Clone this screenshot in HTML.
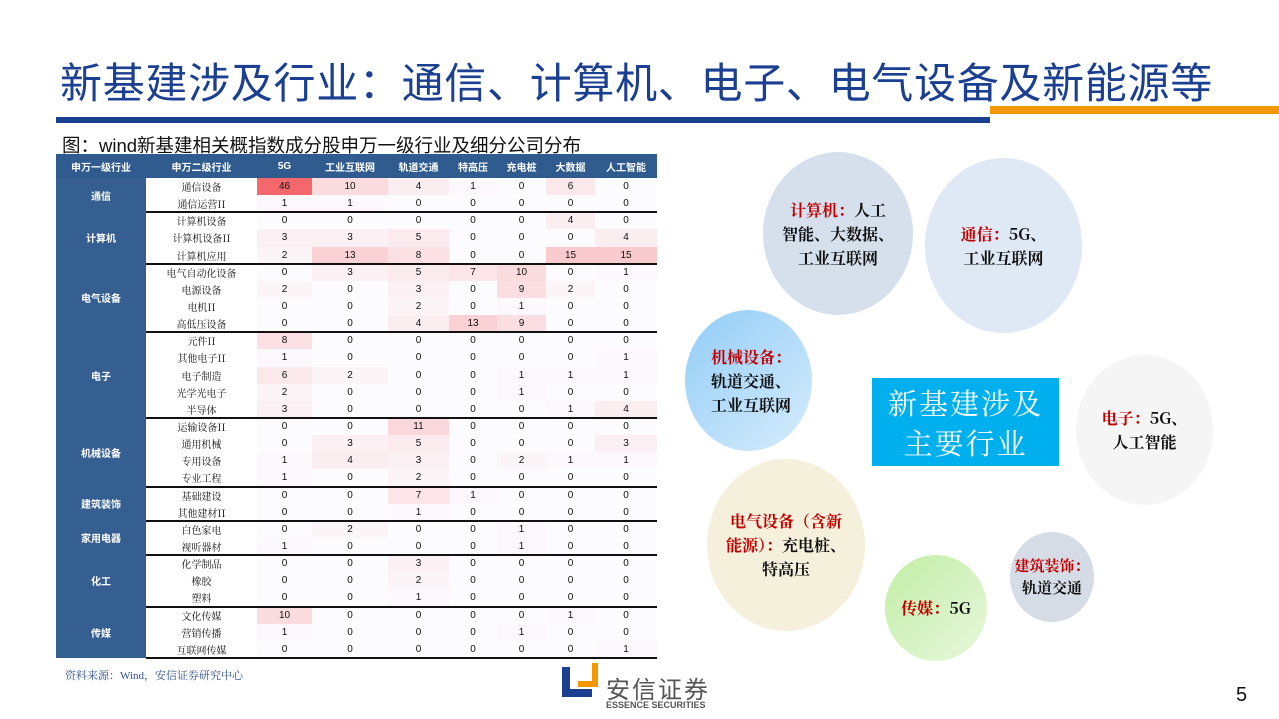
<!DOCTYPE html>
<html><head><meta charset="utf-8">
<style>
*{margin:0;padding:0;box-sizing:border-box}
body{width:1279px;height:719px;position:relative;background:#fff;font-family:"Liberation Sans","Noto Sans CJK SC",sans-serif;overflow:hidden}
.abs{position:absolute}
.cell{position:absolute;display:flex;align-items:center;justify-content:center;font-size:10px;color:#111}
.bub{position:absolute;border-radius:50%;display:flex;align-items:center;justify-content:center;text-align:center;font-weight:bold;font-size:16px;line-height:24px;color:#111;font-family:"Noto Serif CJK SC","Noto Sans CJK SC",serif}
.red{color:#c00000}
</style></head><body>
<div class="abs" style="left:60px;top:50px;font-size:42px;color:#1b3f91;white-space:nowrap;letter-spacing:0.7px">新基建涉及行业：通信、计算机、电子、电气设备及新能源等</div>
<div class="abs" style="left:56px;top:117px;width:934px;height:6px;background:#1b3f91"></div>
<div class="abs" style="left:990px;top:106px;width:289px;height:8px;background:#f39800"></div>
<div class="abs" style="left:62px;top:132px;font-size:18.5px;color:#111;white-space:nowrap">图：wind新基建相关概指数成分股申万一级行业及细分公司分布</div>
<div id="tbl" class="abs" style="left:0;top:0"></div>
<div class="abs" style="left:65px;top:667px;font-size:11px;color:#2f4f8f;font-family:'Liberation Serif','Noto Serif CJK SC',serif">资料来源：Wind，安信证券研究中心</div>

<div class="bub" style="left:763px;top:152px;width:150px;height:163px;background:#d5e0ec"><div><span class="red">计算机：</span>人工<br>智能、大数据、<br>工业互联网</div></div>
<div class="bub" style="left:925px;top:158px;width:157px;height:175px;background:#dfe9f5"><div><span class="red">通信：</span>5G、<br>工业互联网</div></div>
<div class="bub" style="left:685px;top:310px;width:127px;height:141px;background:linear-gradient(135deg,#92cdf7,#d6ecfc);justify-content:flex-start;text-align:left;padding-left:26px"><div><span class="red">机械设备：</span><br>轨道交通、<br>工业互联网</div></div>
<div class="abs" style="left:872px;top:378px;width:187px;height:88px;background:#00b0ee;color:#fff;font-size:29px;line-height:40px;text-align:center;padding-top:5px;font-family:'Noto Serif CJK SC',serif;letter-spacing:2px">新基建涉及<br>主要行业</div>
<div class="bub" style="left:1076px;top:355px;width:137px;height:150px;background:#f5f5f6"><div><span class="red">电子：</span>5G、<br>人工智能</div></div>
<div class="bub" style="left:707px;top:459px;width:158px;height:172px;background:#f5f0dc"><div><span class="red">电气设备（含新<br>能源）：</span>充电桩、<br>特高压</div></div>
<div class="bub" style="left:885px;top:555px;width:102px;height:106px;background:linear-gradient(135deg,#c2eea6,#e8f7dc)"><div><span class="red">传媒：</span>5G</div></div>
<div class="bub" style="left:1010px;top:532px;width:84px;height:90px;background:#d6dce6;font-size:15px;line-height:22px"><div><span class="red">建筑装饰：</span><br>轨道交通</div></div>

<div class="abs" style="left:562px;top:663px;width:36px;height:34px">
<div class="abs" style="left:0;top:4px;width:30px;height:30px;background:#1b3f91"></div>
<div class="abs" style="left:8px;top:4px;width:22px;height:22px;background:#fff"></div>
<div class="abs" style="left:16px;top:0;width:20px;height:24px;background:#f39800"></div>
<div class="abs" style="left:16px;top:0;width:14px;height:18px;background:#fff"></div>
</div>
<div class="abs" style="left:606px;top:670px;font-size:24px;color:#555;letter-spacing:2px">安信证券</div>
<div class="abs" style="left:606px;top:700px;font-size:9px;color:#555;font-weight:bold">ESSENCE SECURITIES</div>
<div class="abs" style="left:1236px;top:684px;font-size:20px;color:#111">5</div>

<script>
const headers=["申万一级行业","申万二级行业","5G","工业互联网","轨道交通","特高压","充电桩","大数据","人工智能"];
const groups=["通信","计算机","电气设备","电子","机械设备","建筑装饰","家用电器","化工","传媒"];
const groupSizes=[2,3,4,5,4,2,2,3,3];
const subs=["通信设备","通信运营II","计算机设备","计算机设备II","计算机应用","电气自动化设备","电源设备","电机II","高低压设备","元件II","其他电子II","电子制造","光学光电子","半导体","运输设备II","通用机械","专用设备","专业工程","基础建设","其他建材II","白色家电","视听器材","化学制品","橡胶","塑料","文化传媒","营销传播","互联网传媒"];
const values=[
[46,10,4,1,0,6,0],[1,1,0,0,0,0,0],[0,0,0,0,0,4,0],[3,3,5,0,0,0,4],[2,13,8,0,0,15,15],
[0,3,5,7,10,0,1],[2,0,3,0,9,2,0],[0,0,2,0,1,0,0],[0,0,4,13,9,0,0],
[8,0,0,0,0,0,0],[1,0,0,0,0,0,1],[6,2,0,0,1,1,1],[2,0,0,0,1,0,0],[3,0,0,0,0,1,4],
[0,0,11,0,0,0,0],[0,3,5,0,0,0,3],[1,4,3,0,2,1,1],[1,0,2,0,0,0,0],
[0,0,7,1,0,0,0],[0,0,1,0,0,0,0],[0,2,0,0,1,0,0],[1,0,0,0,1,0,0],
[0,0,3,0,0,0,0],[0,0,2,0,0,0,0],[0,0,1,0,0,0,0],
[10,0,0,0,0,1,0],[1,0,0,0,1,0,0],[0,0,0,0,0,0,1]];
const colX=[56,146,257,312,388,449,497,546,595,657];
const top0=154,headH=24,rowH=17.14;
const T=document.getElementById('tbl');
const maxV=Math.max(...values.flat());
function rowY(i){return top0+headH+i*rowH;}
function heat(v){const t=v/maxV;const c0=[252,251,254],c1=[244,104,107];return `rgb(${c0.map((a,k)=>Math.round(a+(c1[k]-a)*t)).join(',')})`;}
function mk(x,y,w,h,txt,css){const d=document.createElement('div');d.className='cell';d.style.cssText+=`left:${x}px;top:${y}px;width:${w}px;height:${h}px;`+(css||'');d.textContent=txt;T.appendChild(d);return d;}
const hb=mk(56,top0,601,headH,'','background:#2f5b8e;');


headers.forEach((h,j)=>{const d=mk(colX[j],top0,colX[j+1]-colX[j],headH,h,'color:#fff;font-weight:bold;font-size:10px;');

});
const bg=mk(56,rowY(0),90,rowH*28,'','background:#365f91;');


let r=0;
groups.forEach((g,gi)=>{const n=groupSizes[gi];
const d=mk(56,rowY(r),90,rowH*n,g,'color:#fff;font-weight:bold;font-size:10px;');


r+=n;});
subs.forEach((s,i)=>{const d=mk(146,rowY(i),111,rowH,s,'font-family:"Noto Serif CJK SC",serif;');


values[i].forEach((v,j)=>{const c=mk(colX[j+2],rowY(i),colX[j+3]-colX[j+2],rowH,String(v),'background:'+heat(v)+';');

});});
r=0;
groupSizes.forEach((n,gi)=>{if(gi>0){const l=mk(146,rowY(r)-1,511,2,'','background:#111;');

}r+=n;});
const bl=mk(146,rowY(28)-1,511,2,'','background:#111;');


</script>
</body></html>
